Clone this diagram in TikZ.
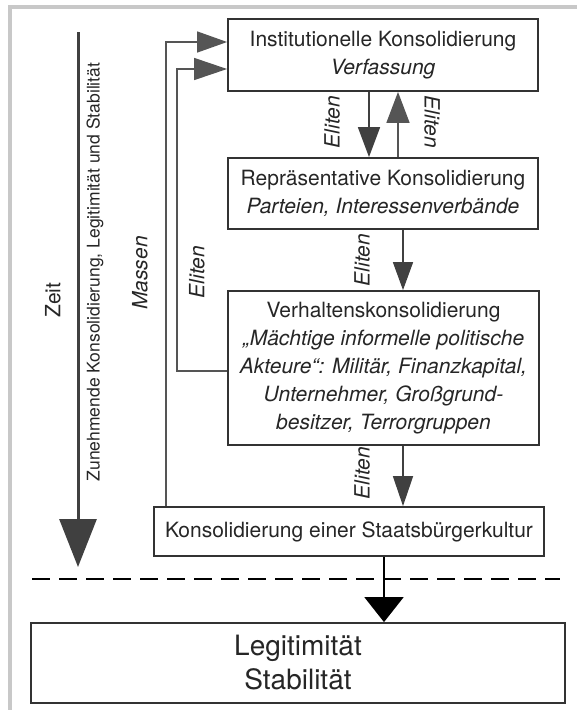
\documentclass[tikz,border=0pt]{standalone}
\usepackage{fontspec}
\setmainfont{TeX Gyre Heros}
\usetikzlibrary{arrows.meta}
\definecolor{txt}{HTML}{262626}
\definecolor{boxc}{HTML}{333333}
\definecolor{arrc}{HTML}{404040}
\definecolor{fbc}{HTML}{555555}
\definecolor{frame}{HTML}{C8C8C8}
\tikzset{
  box/.style={draw=boxc, line width=1.8pt, fill=white, align=center, text=txt, inner sep=0pt,
              font=\fontsize{21}{28}\selectfont},
  lab/.style={text=txt, inner sep=0pt, font=\fontsize{21}{24}\selectfont},
  arr/.style={draw=arrc, line width=1.6pt},
  fb/.style={draw=fbc, line width=1.4pt},
}
\begin{document}
\begin{tikzpicture}[x=1pt,y=-1pt]
\useasboundingbox (0,0) rectangle (577,710);
% grey frame
\fill[frame] (8,5) rectangle (577,9);
\fill[frame] (8,5) rectangle (12,710);

% boxes
\node[box, minimum width=310pt, minimum height=72pt] (b1) at (383,55)
  {Institutionelle Konsolidierung\\ \textit{Verfassung}};
\node[box, minimum width=310pt, minimum height=71pt] (b2) at (383,193.5)
  {Repräsentative Konsolidierung\\ \textit{Parteien, Interessenverbände}};
\node[box, minimum width=311pt, minimum height=154pt] (b3) at (383.5,368)
  {Verhaltenskonsolidierung\\ \textit{„Mächtige informelle politische}\\ \textit{Akteure“: Militär, Finanzkapital,}\\ \textit{Unternehmer, Großgrund-}\\ \textit{besitzer, Terrorgruppen}};
\node[box, minimum width=390pt, minimum height=49pt] (b4) at (349,531.5)
  {Konsolidierung einer Staatsbürgerkultur};
\node[box, minimum width=534pt, minimum height=80pt, font=\fontsize{28}{34}\selectfont] (b5) at (298,663)
  {Legitimität\\ Stabilität};

% x positions of vertical connectors
\coordinate (xa) at (369,0);
\coordinate (xb) at (398,0);
\coordinate (xc) at (403,0);
\coordinate (xd) at (384,0);

% connectors between boxes
\draw[arr, -{Triangle[length=30pt,width=22pt]}] (b1.south -| xa) -- (b2.north -| xa);
\draw[arr, draw=fbc, -{Triangle[length=31pt,width=23pt]}] (b2.north -| xb) -- (b1.south -| xb);
\draw[arr, -{Triangle[length=28pt,width=20pt]}] (b2.south -| xc) -- (b3.north -| xc);
\draw[arr, -{Triangle[length=30pt,width=20pt]}] (b3.south -| xc) -- (b4.north -| xc);
\draw[draw=black, line width=2pt, -{Triangle[length=25pt,width=39pt]}] (b4.south -| xd) -- (b5.north -| xd);

% feedback: Massen
\coordinate (m) at (166,42);
\draw[fb, -{Triangle[length=30pt,width=21pt]}] (b4.north -| m) -- (m) -- (b1.west |- m);
% feedback: Eliten
\coordinate (el) at (177,371);
\coordinate (et) at (177,69);
\draw[fb, -{Triangle[length=33pt,width=22pt]}] (b3.west |- el) -- (el) -- (et) -- (b1.west |- et);

% dashed separator
\coordinate (d1) at (32,579);
\coordinate (d2) at (560,579);
\draw[black, line width=2.5pt, dash pattern=on 18pt off 9pt] (d1) -- (d2);

% time arrow
\coordinate (z1) at (78,32);
\coordinate (z2) at (78,567);
\draw[arrc, line width=3pt, -{Triangle[length=48pt,width=37pt]}] (z1) -- (z2);

% labels
\node[lab, rotate=90] (lzeit) at (53,300) {Zeit};
\node[lab, rotate=90, font=\fontsize{17.5}{20}\selectfont] (lzun) at (95,272)
  {Zunehmende Konsolidierung, Legitimität und Stabilität};
\node[lab, rotate=90] (lmas) at (140,273) {\textit{Massen}};
\node[lab, rotate=90] (lel0) at (197,272) {\textit{Eliten}};
\node[lab, rotate=90] (lel1) at (332,122) {\textit{Eliten}};
\node[lab, rotate=-90] (lel2) at (432,122) {\textit{Eliten}};
\node[lab, rotate=90] (lel3) at (362,260) {\textit{Eliten}};
\node[lab, rotate=90] (lel4) at (362,473) {\textit{Eliten}};
\end{tikzpicture}
\end{document}
